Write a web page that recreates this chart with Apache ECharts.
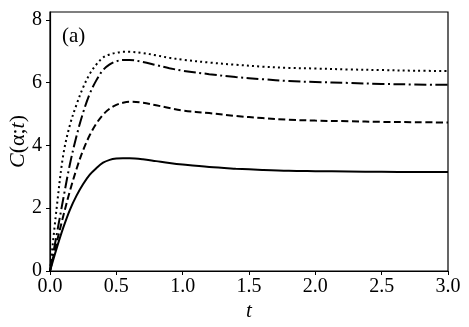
<!DOCTYPE html>
<html>
<head>
<meta charset="utf-8">
<script src="https://cdn.jsdelivr.net/npm/echarts@6/dist/echarts.min.js"></script>
<style>
  html, body { margin: 0; padding: 0; background: #fff; }
  #chart { width: 469px; height: 327px; }
</style>
</head>
<body>
<div id="chart"></div>
<script>
// sampled times
const tValues = [0, 0.05, 0.1, 0.15, 0.2, 0.25, 0.3, 0.35, 0.4, 0.45, 0.5, 0.55, 0.6, 0.7, 0.8, 0.9, 1.0, 1.2, 1.4, 1.6, 1.8, 2.0, 2.25, 2.5, 2.75, 3.0]

// C(alpha; t) curves
const solidValues = [0, 0.72, 1.38, 1.95, 2.4, 2.77, 3.07, 3.28, 3.45, 3.54, 3.58, 3.59, 3.59, 3.56, 3.5, 3.44, 3.39, 3.31, 3.26, 3.22, 3.19, 3.18, 3.17, 3.16, 3.155, 3.15]
const dashedValues = [0, 0.9, 1.75, 2.55, 3.25, 3.85, 4.33, 4.7, 4.98, 5.17, 5.29, 5.36, 5.39, 5.36, 5.28, 5.19, 5.11, 5.03, 4.94, 4.87, 4.82, 4.79, 4.77, 4.75, 4.74, 4.73]
const dashDotValues = [0, 1.15, 2.3, 3.4, 4.3, 5.05, 5.65, 6.08, 6.4, 6.58, 6.68, 6.72, 6.72, 6.66, 6.56, 6.46, 6.38, 6.27, 6.18, 6.11, 6.05, 6.02, 5.99, 5.96, 5.94, 5.93]
const dottedValues = [0, 2.0, 3.7, 4.65, 5.3, 5.85, 6.28, 6.58, 6.8, 6.9, 6.95, 6.98, 6.98, 6.94, 6.87, 6.79, 6.73, 6.64, 6.57, 6.51, 6.47, 6.45, 6.42, 6.4, 6.38, 6.37]

// tick labels
const xTicks = [0, 0.5, 1.0, 1.5, 2.0, 2.5, 3.0]
const yTicks = [0, 2, 4, 6, 8]

const serif = '"Liberation Serif", "DejaVu Serif", serif'

const pairs = vals => tValues.map((t, i) => [t, vals[i]])

const makeLine = (vals, dash) => ({
  type: 'line',
  data: pairs(vals),
  showSymbol: false,
  smooth: 0.35,
  lineStyle: { color: '#000', width: 2, type: dash, cap: 'butt' },
  silent: true
})

const chart = echarts.init(document.getElementById('chart'))

const option = {
  animation: false,
  grid: {
    left: 50,
    right: 21,
    top: 12,
    bottom: 56,
    containLabel: false,
    outerBoundsMode: 'none',
    show: true,
    borderColor: '#000',
    borderWidth: 1.2,
    backgroundColor: 'transparent'
  },
  xAxis: {
    type: 'value',
    min: 0,
    max: 3,
    interval: 0.5,
    name: 't',
    nameLocation: 'middle',
    nameGap: 30,
    nameMoveOverlap: false,
    nameTextStyle: { fontFamily: serif, fontStyle: 'italic', fontSize: 21, color: '#000' },
    axisLine: { show: true, onZero: false, lineStyle: { color: '#000', width: 1.2 } },
    axisTick: { show: true, length: 4, lineStyle: { color: '#000' }, customValues: xTicks },
    axisLabel: {
      fontFamily: serif,
      fontSize: 20,
      color: '#000',
      margin: 6,
      customValues: xTicks,
      formatter: v => v.toFixed(1)
    },
    splitLine: { show: false }
  },
  yAxis: {
    type: 'value',
    min: 0,
    max: 8.25,
    name: '{i|C}(α;{i|t})',
    nameLocation: 'middle',
    nameGap: 21,
    nameRotate: 90,
    nameMoveOverlap: false,
    nameTextStyle: {
      fontFamily: serif,
      fontSize: 22,
      color: '#000',
      rich: {
        i: { fontFamily: serif, fontStyle: 'italic', fontSize: 22, color: '#000' }
      }
    },
    axisLine: { show: true, lineStyle: { color: '#000', width: 1.2 } },
    axisTick: { show: true, length: 4, lineStyle: { color: '#000' }, customValues: yTicks },
    axisLabel: {
      fontFamily: serif,
      fontSize: 20,
      color: '#000',
      margin: 8,
      customValues: yTicks
    },
    splitLine: { show: false }
  },
  graphic: [
    {
      type: 'text',
      left: 62,
      top: 26,
      style: { text: '(a)', font: '21px ' + serif, fill: '#000' }
    }
  ],
  series: [
    makeLine(solidValues, 'solid'),
    makeLine(dashedValues, [7, 3.5]),
    makeLine(dashDotValues, [12, 3.5, 2, 3.5]),
    makeLine(dottedValues, [2, 3.2])
  ]
}

chart.setOption(option)
</script>
</body>
</html>
